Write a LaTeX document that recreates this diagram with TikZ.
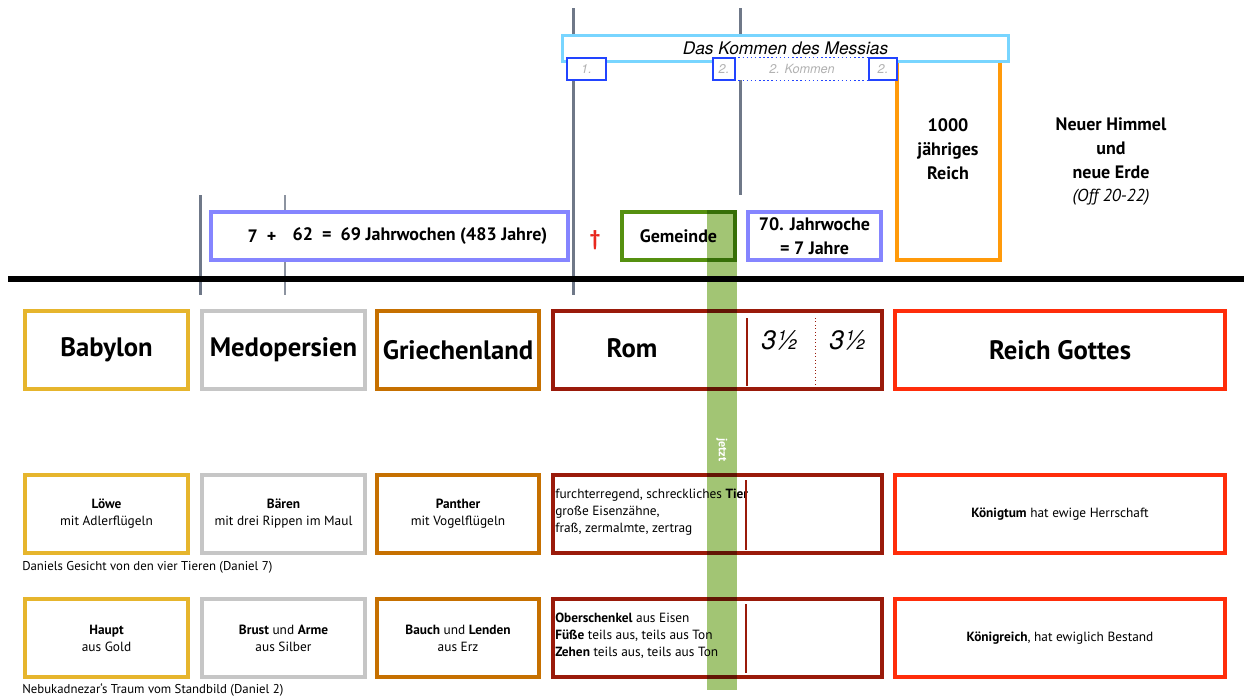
\documentclass[tikz,border=0pt]{standalone}
\usepackage{fontspec}
\setmainfont{PT Sans}
\newfontfamily\helv{TeX Gyre Heros}
\usetikzlibrary{positioning}
\definecolor{gold}{HTML}{E6B52D}
\definecolor{silver}{HTML}{C6C6C6}
\definecolor{bronze}{HTML}{C67000}
\definecolor{iron}{HTML}{9A1A0A}
\definecolor{kingdom}{HTML}{FF2D0A}
\definecolor{weeks}{HTML}{8585FF}
\definecolor{church}{HTML}{559010}
\definecolor{millennium}{HTML}{FF9A0A}
\definecolor{messiah}{HTML}{78D5FF}
\definecolor{coming}{HTML}{2244FF}
\definecolor{pillar}{HTML}{6F7888}
\definecolor{now}{HTML}{A2C574}
\definecolor{dagger}{HTML}{E8281E}

\begin{document}
\begin{tikzpicture}[x=0.75pt,y=-0.75pt,
  box/.style={draw=#1, line width=3pt, fill=white, inner sep=0pt, align=center},
  wh/.style 2 args={minimum width=#1*0.75pt, minimum height=#2*0.75pt},
  realm/.style={font=\bfseries\fontsize{20}{22}\selectfont},
  toptxt/.style={font=\bfseries\fontsize{13.5}{18}\selectfont, align=center},
  rowtxt/.style={font=\fontsize{10}{12.75}\selectfont, align=center},
  caption/.style={font=\fontsize{9.6}{10}\selectfont, anchor=base west, inner sep=0pt},
  nr/.style={draw=coming, line width=1.1pt, fill=white, inner sep=0pt,
    text=gray!60, font=\helv\itshape\fontsize{9.5}{9.5}\selectfont},
  half/.style={font=\helv\itshape\fontsize{20}{20}\selectfont}]
\useasboundingbox (0,0) rectangle (1244,697);
% time line
\draw[pillar, line width=2.25pt] (200,195) -- (200,295);
\draw[pillar!80, line width=1.1pt] (285,195) -- (285,295);
\draw[pillar, line width=2.25pt] (573,8) -- (573,295);
\draw[pillar, line width=2.25pt] (740,8) -- (740,195);
\draw[line width=4pt] (8,279) -- (1244,279);

\node[box=millennium, wh={103}{200}] (millennium) at (948.5,160) {};
\node[toptxt] (millenniumtxt) at (948,149) {1000\\jähriges\\Reich};
\node[toptxt] (newearth) at (1111,148) {Neuer Himmel\\und\\neue Erde};
\node[font=\itshape\fontsize{13}{13}\selectfont] (rev) at (1111,197) {(Off 20-22)};

\node[box=messiah, line width=2.25pt, wh={446}{26},
  font=\helv\itshape\fontsize{13}{13}\selectfont] (messiah) at (785.5,48.5) {Das Kommen des Messias};
\node[nr, wh={39}{22}] (first) at (586.5,69) {1.};
\node[nr, draw=none, wh={134}{22}] (second) at (802,69) {2. Kommen};
\draw[coming, line width=1.1pt, dotted] (second.north west) -- (second.north east)
  (second.south west) -- (second.south east);
\node[nr, wh={22}{22}] (seconda) at (724,69) {2.};
\node[nr, wh={28}{22}] (secondb) at (883,69) {2.};

\node[box=weeks, wh={357}{48}] (weeks) at (389.5,236) {};
\node[toptxt, anchor=east] (seven) at (281,236) {7\enspace+};
\node[toptxt, anchor=west] (sixtytwo) at (288,236) {62\enspace=\enspace69 Jahrwochen (483 Jahre)};
\node[text=dagger, font=\bfseries\fontsize{16}{16}\selectfont] (cross) at (595,240) {†};
\node[box=church, wh={113}{48}, toptxt] (church) at (678.5,236) {Gemeinde};
\node[box=weeks, wh={133}{48}, toptxt] (lastweek) at (814.5,236) {70. Jahrwoche\\= 7 Jahre};

% Reiche
\node[box=gold, wh={163}{78}, realm] (babylon) at (106.5,350) {Babylon};
\node[box=silver, wh={163}{78}, realm] (persia) at (283.5,350) {Medopersien};
\node[box=bronze, wh={162}{78}, realm] (greece) at (458,350) {Griechenland};
\node[box=iron, wh={329}{78}] (rome) at (717.5,350) {};
\node[realm] (rometxt) at (632,348) {Rom};
\node[box=kingdom, wh={330}{78}, realm] (god) at (1060,350) {Reich Gottes};
\draw[iron, line width=0.8pt] (747,318) -- (747,386);
\draw[iron, line width=0.6pt, dotted] (815,318) -- (815,386);
\node[half] (halfa) at (780,340) {3½};
\node[half] (halfb) at (848,340) {3½};

% Daniel 7
\node[box=gold, wh={163}{78}, rowtxt] (lion) at (106.5,514) {\textbf{Löwe}\\mit Adlerflügeln};
\node[box=silver, wh={163}{78}, rowtxt] (bear) at (283.5,514) {\textbf{Bären}\\mit drei Rippen im Maul};
\node[box=bronze, wh={162}{78}, rowtxt] (panther) at (458,514) {\textbf{Panther}\\mit Vogelflügeln};
\node[box=iron, wh={329}{78}] (beast) at (717.5,514) {};
\node[rowtxt, align=left, anchor=west, inner sep=0pt] (beasttxt) at (555,512)
  {furchterregend, schreckliches \textbf{Tier}\\große Eisenzähne,\\fraß, zermalmte, zertrag};
\draw[iron, line width=0.8pt] (746,480) -- (746,550);
\node[box=kingdom, wh={330}{78}, rowtxt] (reign) at (1060,514) {\textbf{Königtum} hat ewige Herrschaft};
\node[caption] (dan7) at (22,570) {Daniels Gesicht von den vier Tieren (Daniel 7)};

% Daniel 2
\node[box=gold, wh={163}{78}, rowtxt] (head) at (106.5,638) {\textbf{Haupt}\\aus Gold};
\node[box=silver, wh={163}{78}, rowtxt] (chest) at (283.5,638) {\textbf{Brust} und \textbf{Arme}\\aus Silber};
\node[box=bronze, wh={162}{78}, rowtxt] (belly) at (458,638) {\textbf{Bauch} und \textbf{Lenden}\\aus Erz};
\node[box=iron, wh={329}{78}] (legs) at (717.5,638) {};
\node[rowtxt, align=left, anchor=west, inner sep=0pt] (legstxt) at (555,636)
  {\textbf{Oberschenkel} aus Eisen\\\textbf{Füße} teils aus, teils aus Ton\\\textbf{Zehen} teils aus, teils aus Ton};
\draw[iron, line width=0.8pt] (746,604) -- (746,673);
\node[box=kingdom, wh={330}{78}, rowtxt] (realmgod) at (1060,638) {\textbf{Königreich}, hat ewiglich Bestand};
\node[caption] (dan2) at (22,693) {Nebukadnezar‘s Traum vom Standbild (Daniel 2)};

% jetzt
\begin{scope}[blend mode=multiply]
\node[fill=now, rotate=-90, inner sep=0pt,
  minimum width=480*0.75pt, minimum height=30*0.75pt] (jetzt) at (722,450) {};
\end{scope}
\node[text=white, rotate=-90, font=\bfseries\fontsize{9}{9}\selectfont] (jetzttxt) at (jetzt) {jetzt};
\end{tikzpicture}
\end{document}
